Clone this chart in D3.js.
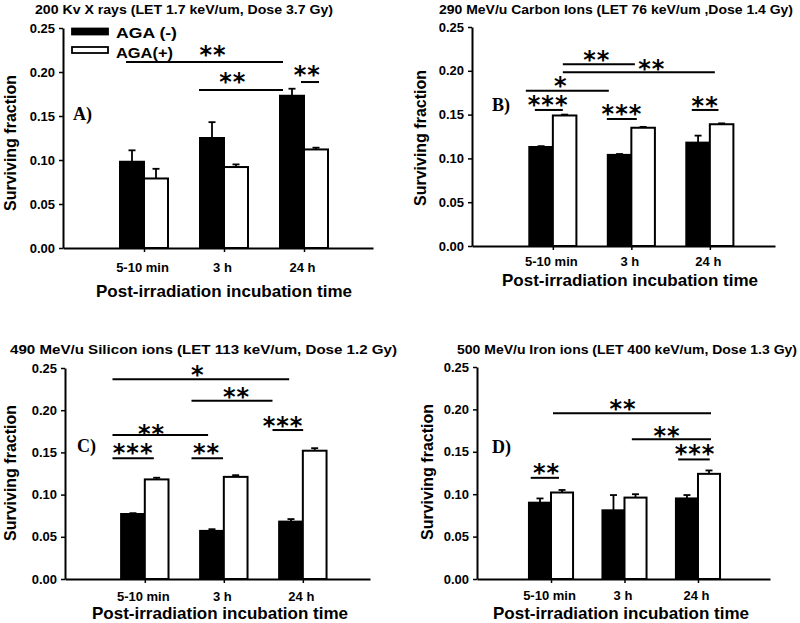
<!DOCTYPE html>
<html><head><meta charset="utf-8">
<script src="https://cdn.jsdelivr.net/npm/d3@7"></script>
<style>body{margin:0;background:#fff} svg{display:block}</style>
</head><body>
<svg id="c" width="800" height="623"></svg>
<script>
// ---------------- DATA ----------------
const categories = ["5-10 min", "3 h", "24 h"];
const seriesNames = ["AGA (-)", "AGA(+)"];
const yTickValues = [0, 0.05, 0.10, 0.15, 0.20, 0.25];
const xAxisTitle = "Post-irradiation incubation time";
const yAxisTitle = "Surviving fraction";
const panelTitles = [
  "200 Kv X rays (LET 1.7 keV/um, Dose 3.7 Gy)",
  "290 MeV/u Carbon Ions (LET 76 keV/um ,Dose 1.4 Gy)",
  "490 MeV/u Silicon ions (LET 113 keV/um, Dose 1.2 Gy)",
  "500 MeV/u Iron ions (LET 400 keV/um, Dose 1.3 Gy)"
];
const panelLabels = ["A)", "B)", "C)", "D)"];

const xrayMinus = [0.098, 0.125, 0.173];
const xrayMinusErr = [0.013, 0.018, 0.008];
const xrayPlus = [0.079, 0.092, 0.112];
const xrayPlusErr = [0.011, 0.003, 0.002];

const carbonMinus = [0.113, 0.104, 0.118];
const carbonMinusErr = [0.001, 0.001, 0.008];
const carbonPlus = [0.149, 0.135, 0.139];
const carbonPlusErr = [0.001, 0.001, 0.001];

const siliconMinus = [0.077, 0.057, 0.068];
const siliconMinusErr = [0.001, 0.002, 0.003];
const siliconPlus = [0.118, 0.121, 0.152];
const siliconPlusErr = [0.002, 0.002, 0.003];

const ironMinus = [0.090, 0.081, 0.095];
const ironMinusErr = [0.005, 0.018, 0.004];
const ironPlus = [0.102, 0.096, 0.124];
const ironPlusErr = [0.003, 0.004, 0.004];

// significance brackets: [from, to (category units), level (SF), stars, label x, label y]
const xraySig = [
  [-0.225, 1.7375, 0.2114, "**", 0.8625, 0.225],
  [0.6875, 1.7375, 0.1795, "**", 1.11, 0.194],
  [1.9625, 2.1875, 0.1886, "**", 2.04, 0.202]
];
const carbonSig = [
  [0.127, 1.045, 0.2074, "**", 0.56, 0.218],
  [0.127, 2.064, 0.1983, "**", 1.26, 0.2078],
  [-0.344, 0.713, 0.1773, "*", 0.10, 0.1887],
  [-0.229, 0.127, 0.1553, "***", -0.06, 0.1667],
  [0.688, 1.07, 0.145, "***", 0.88, 0.156],
  [1.77, 2.11, 0.1553, "**", 1.94, 0.166]
];
const siliconSig = [
  [-0.409, 1.827, 0.2366, "*", 0.67, 0.2476],
  [0.591, 1.616, 0.2113, "**", 1.16, 0.222],
  [1.616, 2.004, 0.1765, "***", 1.75, 0.1876],
  [-0.409, 0.801, 0.1706, "**", 0.085, 0.1773],
  [-0.409, 0.114, 0.143, "***", -0.148, 0.155],
  [0.591, 0.99, 0.143, "**", 0.78, 0.155]
];
const ironSig = [
  [0.027, 2.177, 0.1955, "**", 0.98, 0.206],
  [1.10, 2.177, 0.1647, "**", 1.58, 0.174],
  [1.73, 2.16, 0.141, "***", 1.96, 0.153],
  [-0.276, 0.109, 0.1193, "**", -0.06, 0.131]
];

// ---------------- LAYOUT ----------------
const layouts = [
  {x0: 63, x1: 373, xmin: -1.0125, xmax: 2.8625, yTop: 28, yBot: 248,
   title: [184, 14, 298], tickBase: 271.5, axBase: 297, axX: 224, yLab: [10, 143], lab: [73, 119.5], legend: true},
  {x0: 472, x1: 775, xmin: -1.03, xmax: 2.83, yTop: 27, yBot: 246,
   title: [616, 14, 354], tickBase: 266, axBase: 285.5, axX: 630, yLab: [420, 138], lab: [492, 111]},
  {x0: 65, x1: 370, xmin: -1.01, xmax: 2.85, yTop: 368, yBot: 579,
   title: [203.5, 353.5, 387], tickBase: 601, axBase: 619, axX: 220, yLab: [10, 473], lab: [77, 452]},
  {x0: 477, x1: 770, xmin: -1.007, xmax: 2.98, yTop: 367, yBot: 579,
   title: [627, 354, 340], tickBase: 599.5, axBase: 619, axX: 621, yLab: [427, 472], lab: [492, 453]}
];

const panels = [
  {minus: xrayMinus, minusErr: xrayMinusErr, plus: xrayPlus, plusErr: xrayPlusErr, sig: xraySig},
  {minus: carbonMinus, minusErr: carbonMinusErr, plus: carbonPlus, plusErr: carbonPlusErr, sig: carbonSig},
  {minus: siliconMinus, minusErr: siliconMinusErr, plus: siliconPlus, plusErr: siliconPlusErr, sig: siliconSig},
  {minus: ironMinus, minusErr: ironMinusErr, plus: ironPlus, plusErr: ironPlusErr, sig: ironSig}
];

const svg = d3.select("#c");
const SANS = "'Liberation Sans', Arial, sans-serif";
const SERIF = "'Liberation Serif', 'DejaVu Serif', serif";
const STAR = "'DejaVu Sans', sans-serif";
const BW = 0.3;

panels.forEach((p, k) => {
  const L = layouts[k];
  const g = svg.append("g");
  const x = d3.scaleLinear().domain([L.xmin, L.xmax]).range([L.x0, L.x1]);
  const y = d3.scaleLinear().domain([0, 0.25]).range([L.yBot, L.yTop]);

  const bars = [];
  p.minus.forEach((v, i) => bars.push({i, v, e: p.minusErr[i], s: 0}));
  p.plus.forEach((v, i) => bars.push({i, v, e: p.plusErr[i], s: 1}));

  // error bars (upper only)
  const eg = g.append("g").attr("stroke", "#000").attr("stroke-width", 1.8);
  bars.forEach(d => {
    const cx = x(d.s === 0 ? d.i - BW / 2 : d.i + BW / 2);
    eg.append("line").attr("x1", cx).attr("x2", cx).attr("y1", y(d.v)).attr("y2", y(d.v + d.e));
    eg.append("line").attr("x1", cx - 3.5).attr("x2", cx + 3.5).attr("y1", y(d.v + d.e)).attr("y2", y(d.v + d.e));
  });

  g.selectAll("rect.bar").data(bars).join("rect").attr("class", "bar")
    .attr("x", d => x(d.s === 0 ? d.i - BW : d.i))
    .attr("width", x(BW) - x(0))
    .attr("y", d => y(d.v))
    .attr("height", d => y(0) - y(d.v))
    .attr("fill", d => d.s === 0 ? "#000" : "#fff")
    .attr("stroke", "#000").attr("stroke-width", 2);

  // axes
  const ya = g.append("g").attr("transform", `translate(${L.x0},0)`)
    .call(d3.axisLeft(y).tickValues(yTickValues).tickFormat(d3.format(".2f")).tickSize(4).tickSizeOuter(0).tickPadding(4));
  ya.select(".domain").attr("stroke-width", 2);
  ya.selectAll(".tick line").attr("stroke-width", 1.5);
  ya.selectAll("text").attr("font-family", SANS).attr("font-weight", "bold").attr("font-size", 13).attr("fill", "#000");

  const xa = g.append("g").attr("transform", `translate(0,${L.yBot})`)
    .call(d3.axisBottom(x).tickValues([0, 1, 2]).tickFormat(i => categories[i]).tickSize(4).tickSizeOuter(0));
  xa.select(".domain").attr("stroke-width", 2);
  xa.selectAll(".tick line").attr("stroke-width", 1.5);
  xa.selectAll("text").attr("font-family", SANS).attr("font-weight", "bold").attr("font-size", 13)
    .attr("fill", "#000").attr("dy", null).attr("y", L.tickBase - L.yBot).attr("dx", -2);

  // significance
  p.sig.forEach(s => {
    g.append("line").attr("x1", x(s[0])).attr("x2", x(s[1])).attr("y1", y(s[2])).attr("y2", y(s[2]))
      .attr("stroke", "#000").attr("stroke-width", 2);
    g.append("text").attr("x", x(s[4])).attr("y", y(s[5]) + 13).attr("text-anchor", "middle")
      .attr("font-family", STAR).attr("font-weight", "bold").attr("font-size", 24)
      .attr("letter-spacing", 1).text(s[3]);
  });

  // titles
  g.append("text").attr("x", L.title[0]).attr("y", L.title[1]).attr("text-anchor", "middle")
    .attr("font-family", SANS).attr("font-weight", "bold").attr("font-size", 12)
    .attr("textLength", L.title[2]).attr("lengthAdjust", "spacingAndGlyphs").text(panelTitles[k]);
  g.append("text").attr("x", L.axX).attr("y", L.axBase).attr("text-anchor", "middle")
    .attr("font-family", SANS).attr("font-weight", "bold").attr("font-size", 17).text(xAxisTitle);
  g.append("text").attr("transform", `translate(${L.yLab[0]},${L.yLab[1]}) rotate(-90)`)
    .attr("text-anchor", "middle").attr("dominant-baseline", "central")
    .attr("font-family", SANS).attr("font-weight", "bold").attr("font-size", 16).text(yAxisTitle);
  g.append("text").attr("x", L.lab[0]).attr("y", L.lab[1])
    .attr("font-family", SERIF).attr("font-weight", "bold").attr("font-size", 18).text(panelLabels[k]);

  if (L.legend) {
    const lg = g.append("g");
    seriesNames.forEach((name, j) => {
      lg.append("rect").attr("x", 72).attr("y", j === 0 ? 28.5 : 47).attr("width", 36).attr("height", 6)
        .attr("fill", j === 0 ? "#000" : "#fff").attr("stroke", "#000").attr("stroke-width", 1.8);
      lg.append("text").attr("x", 116).attr("y", j === 0 ? 38 : 57.5)
        .attr("font-family", SANS).attr("font-weight", "bold").attr("font-size", 15)
        .attr("textLength", j === 0 ? 61 : 57).attr("lengthAdjust", "spacingAndGlyphs").text(name);
    });
  }
});
</script>
</body></html>
